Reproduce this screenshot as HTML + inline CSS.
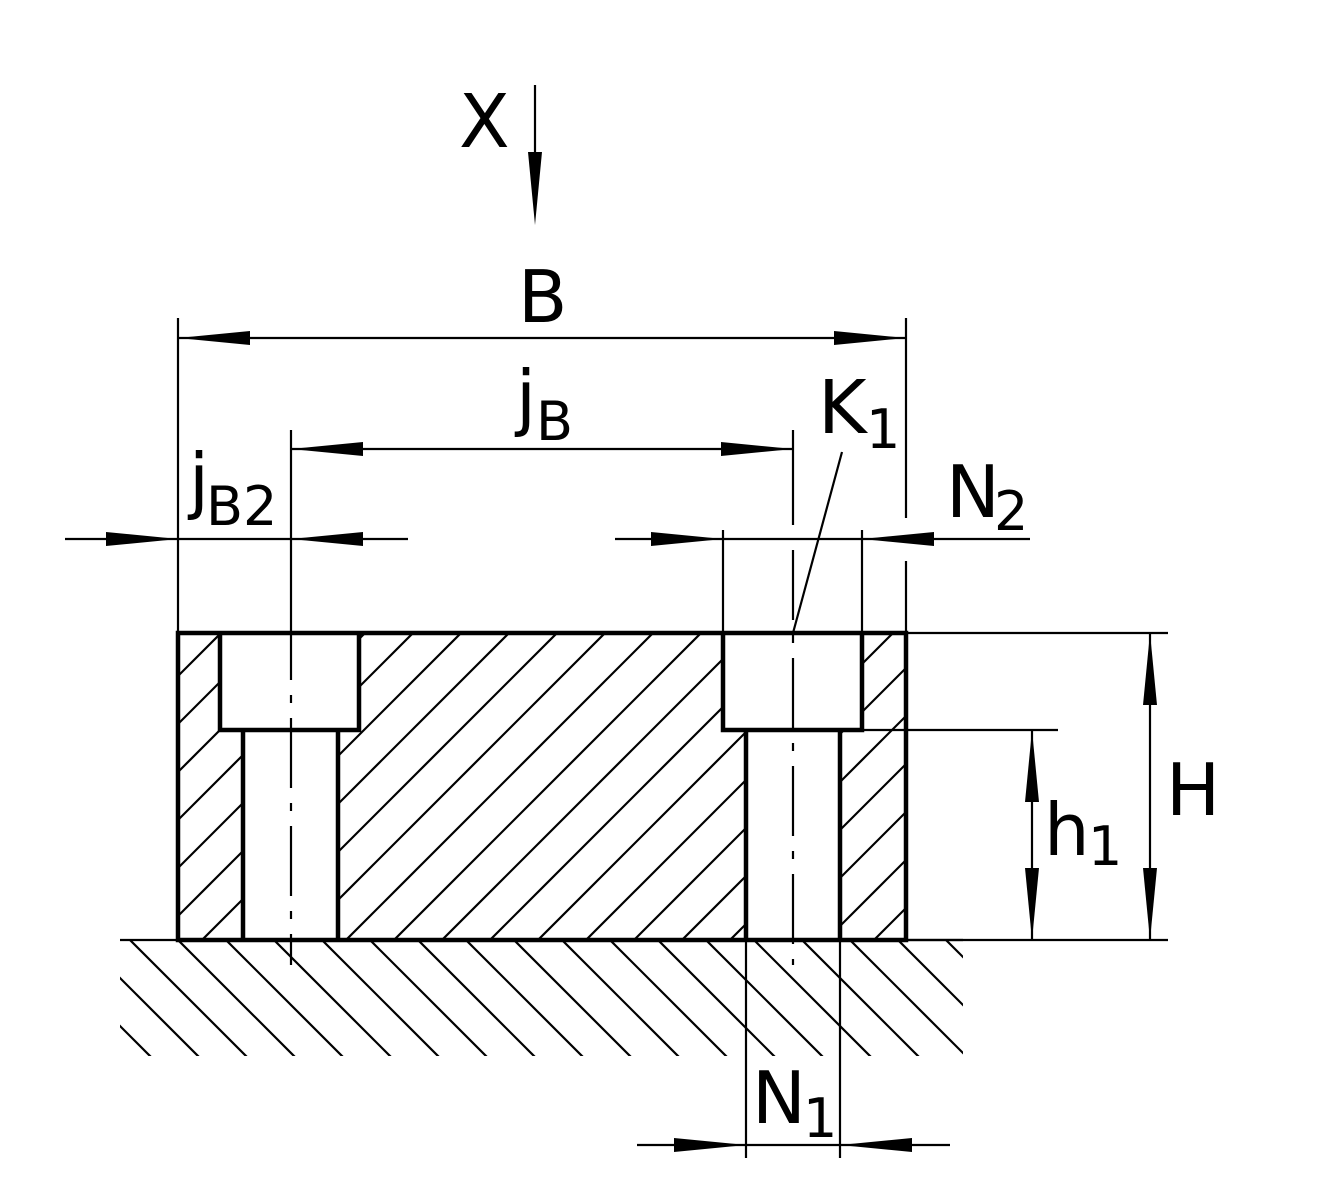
<!DOCTYPE html>
<html><head><meta charset="utf-8"><style>html,body{margin:0;padding:0;background:#fff}svg{display:block}</style></head><body>
<svg width="1330" height="1200" viewBox="0 0 1330 1200" xmlns="http://www.w3.org/2000/svg">
<defs>
<clipPath id="gc"><rect x="120" y="940" width="843" height="116"/></clipPath>
<clipPath id="bc"><path d="M178,633 H220 V730 H243 V940 H178 Z M338,940 V730 H359 V633 H723 V730 H746 V940 Z M840,940 V730 H862 V633 H906 V940 Z"/></clipPath>
</defs>
<g stroke="#000" stroke-width="2.2" clip-path="url(#bc)">
<g id="bh"></g>
</g>
<g stroke="#000" stroke-width="2.2" clip-path="url(#gc)" id="gh"></g>
<script>
(function(){var ns="http://www.w3.org/2000/svg";var b=document.getElementById("bh");
for(var c=1142-48*20;c<1142+48*20;c+=48){var l=document.createElementNS(ns,"line");l.setAttribute("x1",c-1000);l.setAttribute("y1",1000);l.setAttribute("x2",c-500);l.setAttribute("y2",500);b.appendChild(l);}
var g=document.getElementById("gh");
for(var d=-762-48*20;d<-762+48*20;d+=48){var l2=document.createElementNS(ns,"line");l2.setAttribute("x1",d+900);l2.setAttribute("y1",900);l2.setAttribute("x2",d+1100);l2.setAttribute("y2",1100);g.appendChild(l2);}
})();
</script>
<g fill="none" stroke="#000" stroke-width="4.5">
<rect x="178" y="633" width="728" height="307"/>
<path d="M220,633 V730 H359 V633 M243,730 V940 M338,730 V940"/>
<path d="M723,633 V730 H862 V633 M746,730 V940 M840,730 V940"/>
</g>
<g stroke="#000" stroke-width="2.2" fill="none">
<line x1="120" y1="940" x2="963" y2="940"/>
<line x1="291" y1="430" x2="291" y2="610"/>
<line x1="291" y1="610" x2="291" y2="965" stroke-dasharray="70 15 8 15"/>
<line x1="793" y1="430" x2="793" y2="525"/>
<line x1="793" y1="550" x2="793" y2="965" stroke-dasharray="70 15 8 15"/>
<line x1="178" y1="318" x2="178" y2="633"/>
<line x1="906" y1="318" x2="906" y2="518"/>
<line x1="906" y1="561" x2="906" y2="633"/>
<line x1="723" y1="530" x2="723" y2="633"/>
<line x1="862" y1="530" x2="862" y2="633"/>
<line x1="178" y1="338" x2="906" y2="338"/>
<line x1="291" y1="449" x2="793" y2="449"/>
<line x1="65" y1="539" x2="178" y2="539"/>
<line x1="178" y1="539" x2="291" y2="539"/>
<line x1="291" y1="539" x2="408" y2="539"/>
<line x1="615" y1="539" x2="862" y2="539"/>
<line x1="862" y1="539" x2="1030" y2="539"/>
<line x1="906" y1="633" x2="1168" y2="633"/>
<line x1="906" y1="940" x2="1168" y2="940"/>
<line x1="862" y1="730" x2="1058" y2="730"/>
<line x1="1150" y1="633" x2="1150" y2="940"/>
<line x1="1032" y1="730" x2="1032" y2="940"/>
<line x1="746" y1="940" x2="746" y2="1158"/>
<line x1="840" y1="940" x2="840" y2="1158"/>
<line x1="637" y1="1145" x2="950" y2="1145"/>
<line x1="535" y1="85" x2="535" y2="160"/>
<line x1="842" y1="452" x2="793" y2="633"/>
</g>
<g fill="#000">
<polygon points="178,338 250,331 250,345"/>
<polygon points="906,338 834,331 834,345"/>
<polygon points="291,449 363,442 363,456"/>
<polygon points="793,449 721,442 721,456"/>
<polygon points="178,539 106,532 106,546"/>
<polygon points="291,539 363,532 363,546"/>
<polygon points="723,539 651,532 651,546"/>
<polygon points="862,539 934,532 934,546"/>
<polygon points="1150,633 1143,705 1157,705"/>
<polygon points="1150,940 1143,868 1157,868"/>
<polygon points="1032,730 1025,802 1039,802"/>
<polygon points="1032,940 1025,868 1039,868"/>
<polygon points="746,1145 674,1138 674,1152"/>
<polygon points="840,1145 912,1138 912,1152"/>
<polygon points="535,225 528,152 542,152"/>
</g>
<g font-family="'DejaVu Sans','Liberation Sans',sans-serif" fill="#000">
<text x="459" y="147" font-size="74">X</text>
<text x="518" y="322" font-size="72">B</text>
<text x="516" y="422" font-size="72">j</text>
<text x="536" y="440" font-size="54">B</text>
<text x="189" y="505" font-size="72">j</text>
<text x="206" y="525" font-size="54">B</text>
<text x="243" y="525" font-size="54">2</text>
<text x="818" y="433" font-size="74">K</text>
<text x="866" y="448" font-size="54">1</text>
<text x="946" y="517" font-size="72">N</text>
<text x="994" y="530" font-size="54">2</text>
<text x="1166" y="815" font-size="72">H</text>
<text x="1044" y="855" font-size="72">h</text>
<text x="1088" y="865" font-size="54">1</text>
<text x="752" y="1123" font-size="72">N</text>
<text x="803" y="1137" font-size="54">1</text>
</g>
</svg>
</body></html>
